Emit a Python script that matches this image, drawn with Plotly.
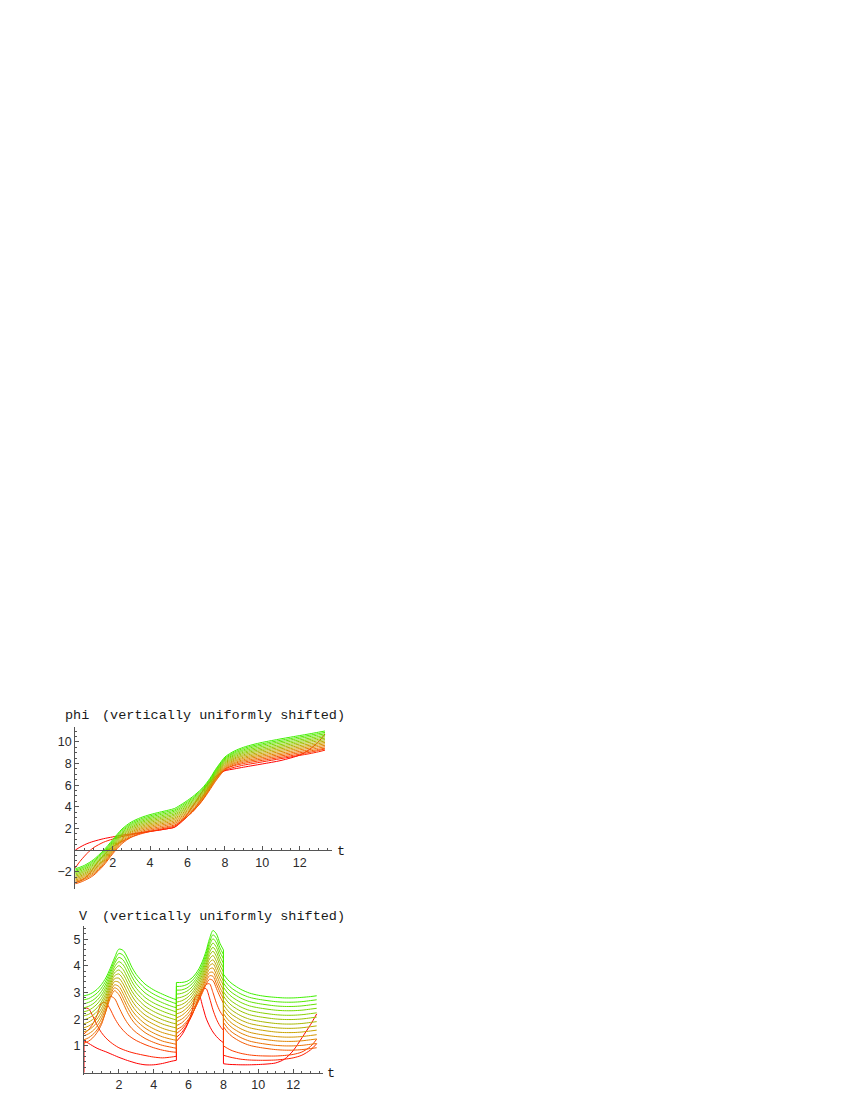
import plotly.graph_objects as go

# ---------------- data ----------------
# upper panel: phi(t) for 16 solutions (index 0 = red ... 15 = green)
T_PHI = [0, 0.25, 0.5, 0.75, 1, 1.5, 2, 2.5, 3, 3.5, 4, 4.5, 5, 5.3, 5.75, 6.25,
         6.75, 7.0, 7.25, 7.5, 7.75, 8.0, 8.5, 9, 9.5, 10, 11, 12, 12.5, 13, 13.35]

PHI = [
    [0.00, 0.27, 0.50, 0.68, 0.82, 1.05, 1.22, 1.38, 1.50, 1.62, 1.74, 1.86, 2.00, 2.12, 2.80, 3.95, 5.30, 5.90, 6.40, 6.80, 7.10, 7.33, 7.50, 7.66, 7.81, 7.96, 8.28, 8.78, 9.27, 10.00, 10.72],
    [-1.65, -1.05, -0.55, -0.10, 0.25, 0.72, 1.02, 1.25, 1.43, 1.58, 1.72, 1.85, 2.00, 2.10, 2.70, 3.55, 4.75, 5.45, 6.10, 6.65, 7.05, 7.38, 7.65, 7.85, 8.00, 8.15, 8.45, 8.75, 8.90, 9.08, 9.23],
    [-3.00, -2.85, -2.60, -2.20, -1.60, -0.50, 0.30, 0.80, 1.20, 1.50, 1.72, 1.92, 2.10, 2.22, 2.78, 3.50, 4.50, 5.15, 5.90, 6.60, 7.10, 7.50, 7.80, 8.00, 8.15, 8.29, 8.57, 8.86, 9.02, 9.20, 9.34],
    [-3.10, -2.98, -2.80, -2.58, -2.30, -1.45, -0.35, 0.60, 1.20, 1.58, 1.84, 2.03, 2.20, 2.32, 2.81, 3.51, 4.47, 5.06, 5.71, 6.36, 6.93, 7.43, 7.88, 8.12, 8.28, 8.42, 8.70, 8.99, 9.14, 9.30, 9.42],
    [-2.99, -2.86, -2.68, -2.46, -2.18, -1.33, -0.24, 0.71, 1.32, 1.70, 1.96, 2.15, 2.33, 2.45, 2.93, 3.63, 4.57, 5.15, 5.80, 6.45, 7.02, 7.53, 7.99, 8.24, 8.40, 8.55, 8.83, 9.12, 9.27, 9.43, 9.55],
    [-2.87, -2.75, -2.57, -2.34, -2.06, -1.22, -0.13, 0.83, 1.43, 1.82, 2.08, 2.28, 2.45, 2.57, 3.06, 3.74, 4.67, 5.24, 5.88, 6.54, 7.12, 7.63, 8.09, 8.35, 8.53, 8.68, 8.96, 9.26, 9.41, 9.57, 9.68],
    [-2.76, -2.63, -2.45, -2.22, -1.94, -1.10, -0.03, 0.94, 1.55, 1.94, 2.20, 2.40, 2.58, 2.70, 3.18, 3.86, 4.77, 5.33, 5.97, 6.63, 7.21, 7.72, 8.20, 8.47, 8.65, 8.80, 9.10, 9.39, 9.54, 9.70, 9.82],
    [-2.64, -2.51, -2.33, -2.10, -1.82, -0.98, 0.08, 1.05, 1.67, 2.05, 2.32, 2.52, 2.70, 2.83, 3.31, 3.97, 4.86, 5.42, 6.06, 6.72, 7.30, 7.82, 8.30, 8.58, 8.77, 8.93, 9.23, 9.52, 9.67, 9.83, 9.95],
    [-2.53, -2.40, -2.22, -1.98, -1.70, -0.87, 0.19, 1.16, 1.78, 2.17, 2.44, 2.64, 2.83, 2.95, 3.43, 4.09, 4.96, 5.51, 6.14, 6.81, 7.40, 7.92, 8.41, 8.70, 8.89, 9.06, 9.36, 9.65, 9.80, 9.96, 10.08],
    [-2.41, -2.28, -2.10, -1.87, -1.58, -0.75, 0.30, 1.28, 1.90, 2.29, 2.56, 2.77, 2.95, 3.08, 3.56, 4.21, 5.06, 5.61, 6.23, 6.91, 7.49, 8.02, 8.51, 8.81, 9.02, 9.19, 9.49, 9.79, 9.94, 10.10, 10.21],
    [-2.30, -2.16, -1.98, -1.75, -1.45, -0.63, 0.41, 1.39, 2.02, 2.41, 2.68, 2.89, 3.08, 3.21, 3.68, 4.32, 5.16, 5.70, 6.32, 7.00, 7.58, 8.11, 8.62, 8.93, 9.14, 9.31, 9.62, 9.92, 10.07, 10.23, 10.34],
    [-2.18, -2.05, -1.87, -1.63, -1.33, -0.52, 0.52, 1.50, 2.13, 2.53, 2.80, 3.01, 3.20, 3.33, 3.80, 4.44, 5.26, 5.79, 6.40, 7.09, 7.68, 8.21, 8.73, 9.04, 9.26, 9.44, 9.75, 10.05, 10.20, 10.36, 10.47],
    [-2.07, -1.93, -1.75, -1.51, -1.21, -0.40, 0.63, 1.61, 2.25, 2.64, 2.92, 3.13, 3.33, 3.46, 3.93, 4.55, 5.35, 5.88, 6.49, 7.18, 7.77, 8.31, 8.83, 9.16, 9.38, 9.57, 9.89, 10.18, 10.33, 10.49, 10.61],
    [-1.95, -1.81, -1.63, -1.39, -1.09, -0.28, 0.73, 1.73, 2.37, 2.76, 3.04, 3.26, 3.45, 3.59, 4.05, 4.67, 5.45, 5.97, 6.58, 7.27, 7.86, 8.41, 8.94, 9.27, 9.51, 9.70, 10.02, 10.32, 10.47, 10.63, 10.74],
    [-1.84, -1.70, -1.52, -1.27, -0.97, -0.17, 0.84, 1.84, 2.48, 2.88, 3.16, 3.38, 3.58, 3.71, 4.18, 4.78, 5.55, 6.06, 6.66, 7.36, 7.96, 8.50, 9.04, 9.39, 9.63, 9.82, 10.15, 10.45, 10.60, 10.76, 10.87],
    [-1.72, -1.58, -1.40, -1.15, -0.85, -0.05, 0.95, 1.95, 2.60, 3.00, 3.28, 3.50, 3.70, 3.84, 4.30, 4.90, 5.65, 6.15, 6.75, 7.45, 8.05, 8.60, 9.15, 9.50, 9.75, 9.95, 10.28, 10.58, 10.73, 10.89, 11.00],
]

# lower panel: V(t), three smooth pieces separated by the jumps at t = 5.3 and t = 8.0
T_V_A = [0, 0.25, 0.5, 0.75, 1.0, 1.25, 1.5, 1.75, 2.0, 2.25, 2.5, 2.75, 3.0, 3.5, 4.0, 4.5, 5.0, 5.3]
T_V_B = [5.3, 5.6, 5.9, 6.2, 6.4, 6.6, 6.8, 7.0, 7.2, 7.4, 7.6, 7.8, 8.0]
T_V_C = [8.0, 8.25, 8.5, 9.0, 9.5, 10.0, 10.5, 11.0, 11.5, 12.0, 12.5, 13.0, 13.35]
V0_INITIAL_LOW = 0.0   # curve 0 starts at V = 0 and jumps straight up at t = 0

V_A = [
    [1.20, 1.10, 1.00, 0.91, 0.84, 0.78, 0.71, 0.64, 0.57, 0.51, 0.45, 0.40, 0.35, 0.29, 0.29, 0.34, 0.42, 0.46],
    [2.42, 2.40, 2.12, 1.78, 1.50, 1.30, 1.15, 1.03, 0.93, 0.86, 0.80, 0.75, 0.71, 0.64, 0.58, 0.55, 0.58, 0.61],
    [1.45, 1.60, 1.82, 2.15, 2.60, 2.62, 2.38, 2.05, 1.78, 1.58, 1.42, 1.30, 1.20, 1.05, 0.93, 0.84, 0.78, 0.76],
    [1.10, 1.17, 1.30, 1.50, 1.80, 2.30, 2.85, 2.78, 2.45, 2.12, 1.85, 1.65, 1.50, 1.28, 1.13, 1.02, 0.95, 0.91],
    [1.23, 1.30, 1.42, 1.60, 1.88, 2.28, 2.78, 3.07, 2.92, 2.60, 2.25, 1.98, 1.78, 1.50, 1.32, 1.18, 1.10, 1.06],
    [1.38, 1.45, 1.56, 1.74, 2.01, 2.40, 2.88, 3.18, 3.08, 2.78, 2.44, 2.16, 1.95, 1.67, 1.48, 1.34, 1.25, 1.21],
    [1.53, 1.59, 1.71, 1.88, 2.14, 2.51, 2.98, 3.29, 3.23, 2.96, 2.62, 2.34, 2.13, 1.83, 1.64, 1.50, 1.41, 1.36],
    [1.68, 1.74, 1.85, 2.01, 2.27, 2.63, 3.09, 3.41, 3.39, 3.14, 2.81, 2.52, 2.30, 2.00, 1.81, 1.66, 1.56, 1.52],
    [1.83, 1.89, 1.99, 2.15, 2.40, 2.74, 3.19, 3.52, 3.54, 3.32, 2.99, 2.70, 2.47, 2.16, 1.97, 1.82, 1.72, 1.67],
    [1.98, 2.04, 2.14, 2.29, 2.53, 2.86, 3.29, 3.63, 3.70, 3.50, 3.18, 2.88, 2.64, 2.33, 2.13, 1.98, 1.87, 1.82],
    [2.13, 2.18, 2.28, 2.43, 2.65, 2.97, 3.39, 3.74, 3.85, 3.68, 3.37, 3.05, 2.82, 2.49, 2.29, 2.14, 2.03, 1.97],
    [2.28, 2.33, 2.43, 2.57, 2.78, 3.09, 3.49, 3.85, 4.01, 3.86, 3.55, 3.23, 2.99, 2.66, 2.45, 2.30, 2.18, 2.12],
    [2.43, 2.48, 2.57, 2.71, 2.91, 3.20, 3.59, 3.96, 4.16, 4.04, 3.74, 3.41, 3.16, 2.82, 2.61, 2.46, 2.34, 2.27],
    [2.58, 2.63, 2.71, 2.84, 3.04, 3.32, 3.70, 4.08, 4.32, 4.22, 3.93, 3.59, 3.33, 2.99, 2.78, 2.62, 2.49, 2.43],
    [2.73, 2.77, 2.86, 2.98, 3.17, 3.44, 3.80, 4.19, 4.47, 4.40, 4.11, 3.77, 3.51, 3.16, 2.94, 2.78, 2.65, 2.58],
    [2.88, 2.92, 3.00, 3.12, 3.30, 3.55, 3.90, 4.30, 4.63, 4.58, 4.30, 3.95, 3.68, 3.32, 3.10, 2.94, 2.80, 2.73],
]

V_B = [
    [1.17, 1.40, 1.75, 2.30, 2.85, 2.90, 2.50, 2.05, 1.75, 1.52, 1.35, 1.22, 1.12],
    [1.32, 1.50, 1.78, 2.15, 2.50, 2.85, 3.12, 3.15, 2.80, 2.35, 2.00, 1.75, 1.58],
    [1.46, 1.62, 1.86, 2.18, 2.45, 2.75, 3.05, 3.30, 3.33, 3.00, 2.60, 2.30, 2.10],
    [1.61, 1.72, 1.92, 2.20, 2.45, 2.72, 3.00, 3.30, 3.50, 3.45, 3.15, 2.85, 2.60],
    [1.76, 1.86, 2.05, 2.31, 2.55, 2.82, 3.10, 3.40, 3.63, 3.61, 3.32, 3.02, 2.77],
    [1.91, 2.00, 2.17, 2.43, 2.66, 2.92, 3.20, 3.51, 3.75, 3.76, 3.49, 3.18, 2.93],
    [2.05, 2.14, 2.30, 2.54, 2.76, 3.01, 3.29, 3.61, 3.88, 3.92, 3.66, 3.35, 3.10],
    [2.20, 2.27, 2.42, 2.65, 2.87, 3.11, 3.39, 3.72, 4.01, 4.08, 3.83, 3.52, 3.27],
    [2.35, 2.41, 2.55, 2.76, 2.97, 3.21, 3.49, 3.82, 4.13, 4.23, 4.00, 3.68, 3.43],
    [2.50, 2.55, 2.67, 2.88, 3.08, 3.31, 3.59, 3.93, 4.26, 4.39, 4.17, 3.85, 3.60],
    [2.64, 2.69, 2.80, 2.99, 3.18, 3.41, 3.69, 4.03, 4.39, 4.55, 4.35, 4.02, 3.77],
    [2.79, 2.83, 2.92, 3.10, 3.28, 3.51, 3.79, 4.13, 4.51, 4.70, 4.52, 4.18, 3.93],
    [2.94, 2.97, 3.05, 3.21, 3.39, 3.60, 3.88, 4.24, 4.64, 4.86, 4.69, 4.35, 4.10],
    [3.09, 3.10, 3.17, 3.33, 3.49, 3.70, 3.98, 4.34, 4.77, 5.02, 4.86, 4.52, 4.27],
    [3.23, 3.24, 3.30, 3.44, 3.60, 3.80, 4.08, 4.45, 4.89, 5.17, 5.03, 4.68, 4.43],
    [3.38, 3.38, 3.42, 3.55, 3.70, 3.90, 4.18, 4.55, 5.02, 5.33, 5.20, 4.85, 4.60],
]

V_C = [
    [0.33, 0.31, 0.30, 0.29, 0.29, 0.30, 0.32, 0.36, 0.50, 0.82, 1.30, 1.80, 2.20],
    [0.65, 0.60, 0.56, 0.50, 0.47, 0.46, 0.46, 0.47, 0.50, 0.55, 0.65, 0.85, 1.08],
    [1.00, 0.90, 0.82, 0.72, 0.66, 0.63, 0.62, 0.62, 0.64, 0.68, 0.77, 0.98, 1.25],
    [1.72, 1.50, 1.35, 1.15, 1.02, 0.95, 0.90, 0.86, 0.84, 0.84, 0.86, 0.90, 0.93],
    [1.88, 1.66, 1.51, 1.31, 1.18, 1.11, 1.06, 1.02, 1.00, 1.00, 1.02, 1.06, 1.09],
    [2.05, 1.83, 1.68, 1.48, 1.35, 1.28, 1.23, 1.19, 1.17, 1.17, 1.19, 1.23, 1.26],
    [2.21, 1.99, 1.84, 1.64, 1.51, 1.44, 1.39, 1.35, 1.33, 1.33, 1.35, 1.39, 1.42],
    [2.38, 2.16, 2.01, 1.81, 1.68, 1.61, 1.56, 1.52, 1.50, 1.50, 1.52, 1.56, 1.59],
    [2.54, 2.32, 2.17, 1.97, 1.84, 1.77, 1.72, 1.68, 1.66, 1.66, 1.68, 1.72, 1.75],
    [2.70, 2.48, 2.33, 2.13, 2.00, 1.93, 1.88, 1.84, 1.82, 1.82, 1.84, 1.88, 1.91],
    [2.87, 2.65, 2.50, 2.30, 2.17, 2.10, 2.05, 2.01, 1.99, 1.99, 2.01, 2.05, 2.08],
    [3.03, 2.81, 2.66, 2.46, 2.33, 2.26, 2.21, 2.17, 2.15, 2.15, 2.17, 2.21, 2.24],
    [3.20, 2.98, 2.83, 2.63, 2.50, 2.43, 2.38, 2.34, 2.32, 2.32, 2.34, 2.38, 2.41],
    [3.36, 3.14, 2.99, 2.79, 2.66, 2.59, 2.54, 2.50, 2.48, 2.48, 2.50, 2.54, 2.57],
    [3.52, 3.30, 3.15, 2.95, 2.82, 2.75, 2.70, 2.66, 2.64, 2.64, 2.66, 2.70, 2.73],
    [3.69, 3.48, 3.33, 3.12, 2.98, 2.90, 2.85, 2.82, 2.80, 2.80, 2.82, 2.85, 2.88],
]

# tick labels
X_TICKS = [2, 4, 6, 8, 10, 12]
PHI_TICKS = [-2, 2, 4, 6, 8, 10]
PHI_TICKTEXT = ["\u22122", "2", "4", "6", "8", "10"]
V_TICKS = [1, 2, 3, 4, 5]

# ---------------- styles ----------------
COLORS = ['#ff0000', '#ff2000', '#fb4000', '#f25a00', '#ea7000', '#e08400', '#d49400', '#c8a200',
          '#b8ac00', '#a8b800', '#98c400', '#88d000', '#76da00', '#64e200', '#52ea00', '#40f000']
LINE_W = 1
AXIS_COLOR = '#555555'
TICK_FONT = dict(family='Liberation Sans, Arial, sans-serif', size=12.5, color='#2a2a2a')
MONO = 'Liberation Mono, Courier New, monospace'

# the page body has an 8 px margin, so the figure is drawn 8 px right/down of the window corner
OFF = 8
W, H = 834, 1084

fig = go.Figure()

# upper panel
for k, row in enumerate(PHI):
    fig.add_trace(go.Scatter(x=T_PHI, y=row, mode='lines', xaxis='x', yaxis='y',
                             line=dict(color=COLORS[k], width=LINE_W, shape='spline', smoothing=0.8),
                             hoverinfo='skip', showlegend=False))

# lower panel
for k in range(len(V_A)):
    xs = T_V_A + [None] + T_V_B + [None] + T_V_C
    ys = V_A[k] + [None] + V_B[k] + [None] + V_C[k]
    fig.add_trace(go.Scatter(x=xs, y=ys, mode='lines', xaxis='x2', yaxis='y2',
                             line=dict(color=COLORS[k], width=LINE_W, shape='spline', smoothing=0.8),
                             hoverinfo='skip', showlegend=False))
    jx = [T_V_A[-1], T_V_B[0], None, T_V_B[-1], T_V_C[0]]
    jy = [V_A[k][-1], V_B[k][0], None, V_B[k][-1], V_C[k][0]]
    if k == 0:
        jx += [None, T_V_A[0], T_V_A[0]]
        jy += [None, V0_INITIAL_LOW, V_A[0][0]]
    fig.add_trace(go.Scatter(x=jx, y=jy, mode='lines', xaxis='x2', yaxis='y2',
                             line=dict(color=COLORS[k], width=LINE_W),
                             hoverinfo='skip', showlegend=False))


def px_x(p):
    return (p - OFF) / W


def px_y(p):
    return 1 - (p - OFF) / H


def minor_list(lo, hi, step, majors):
    vals = []
    v = lo
    while v <= hi + 1e-9:
        r = round(v, 3)
        if all(abs(r - m) > 1e-6 for m in majors) and abs(r) > 1e-6:
            vals.append(r)
        v += step
    return vals


common = dict(showgrid=False, zeroline=False, showline=True, linecolor=AXIS_COLOR, linewidth=1,
              ticks='inside', ticklen=4, tickwidth=1, tickcolor=AXIS_COLOR, tickfont=TICK_FONT,
              fixedrange=True)

# geometry (window pixels)
TOP_X0, TOP_XS = 75.2, 18.71      # pixel of t=0, px per unit
TOP_Y0, TOP_YS = 851.7, 10.85     # pixel of phi=0, px per unit
BOT_X0, BOT_XS = 84.0, 17.43
BOT_Y0, BOT_YS = 1074.5, 26.7
X_MAX = 13.7
PHI_RANGE = [-3.55, 11.4]
V_RANGE = [-0.1, 5.5]

fig.update_layout(
    width=W, height=H, margin=dict(l=0, r=0, t=0, b=0),
    paper_bgcolor='white', plot_bgcolor='rgba(0,0,0,0)', showlegend=False,
    xaxis=dict(common, domain=[px_x(TOP_X0), px_x(TOP_X0 + X_MAX * TOP_XS)], range=[0, X_MAX],
               anchor='free', position=px_y(TOP_Y0), ticklabelstandoff=1,
               tickmode='array', tickvals=X_TICKS, ticktext=[str(v) for v in X_TICKS],
               minor=dict(tickmode='array', tickvals=minor_list(0, 13.5, 0.5, X_TICKS), ticks='inside',
                          ticklen=2, tickwidth=1, tickcolor=AXIS_COLOR)),
    yaxis=dict(common, domain=[px_y(TOP_Y0 - PHI_RANGE[0] * TOP_YS), px_y(TOP_Y0 - PHI_RANGE[1] * TOP_YS)],
               range=PHI_RANGE, anchor='x',
               tickmode='array', tickvals=PHI_TICKS, ticktext=PHI_TICKTEXT,
               minor=dict(tickmode='array', tickvals=minor_list(-3.5, 11.0, 0.5, PHI_TICKS), ticks='inside',
                          ticklen=2, tickwidth=1, tickcolor=AXIS_COLOR)),
    xaxis2=dict(common, domain=[px_x(BOT_X0), px_x(BOT_X0 + X_MAX * BOT_XS)], range=[0, X_MAX],
                anchor='free', position=px_y(BOT_Y0), ticklabelstandoff=0,
                tickmode='array', tickvals=X_TICKS, ticktext=[str(v) for v in X_TICKS],
                minor=dict(tickmode='array', tickvals=minor_list(0, 13.5, 0.5, X_TICKS), ticks='inside',
                           ticklen=2, tickwidth=1, tickcolor=AXIS_COLOR)),
    yaxis2=dict(common, domain=[px_y(BOT_Y0 - V_RANGE[0] * BOT_YS), px_y(BOT_Y0 - V_RANGE[1] * BOT_YS)],
                range=V_RANGE, anchor='x2',
                tickmode='array', tickvals=V_TICKS, ticktext=[str(v) for v in V_TICKS],
                minor=dict(tickmode='array', tickvals=minor_list(0.2, 5.4, 0.2, V_TICKS), ticks='inside',
                           ticklen=2, tickwidth=1, tickcolor=AXIS_COLOR)),
)

ann_font = dict(family=MONO, size=13.5, color='#1a1a1a')
annotations = [
    dict(text='phi', x=px_x(63), y=px_y(717), xanchor='left', yanchor='middle'),
    dict(text='(vertically uniformly shifted)', x=px_x(100), y=px_y(717), xanchor='left', yanchor='middle'),
    dict(text='t', x=px_x(340.5), y=px_y(853), xanchor='center', yanchor='middle'),
    dict(text='V', x=px_x(83.3), y=px_y(918), xanchor='center', yanchor='middle'),
    dict(text='(vertically uniformly shifted)', x=px_x(100), y=px_y(918), xanchor='left', yanchor='middle'),
    dict(text='t', x=px_x(330.7), y=px_y(1075.5), xanchor='center', yanchor='middle'),
]
for a in annotations:
    fig.add_annotation(xref='paper', yref='paper', showarrow=False, font=ann_font, **a)

fig.write_html("out.html")
